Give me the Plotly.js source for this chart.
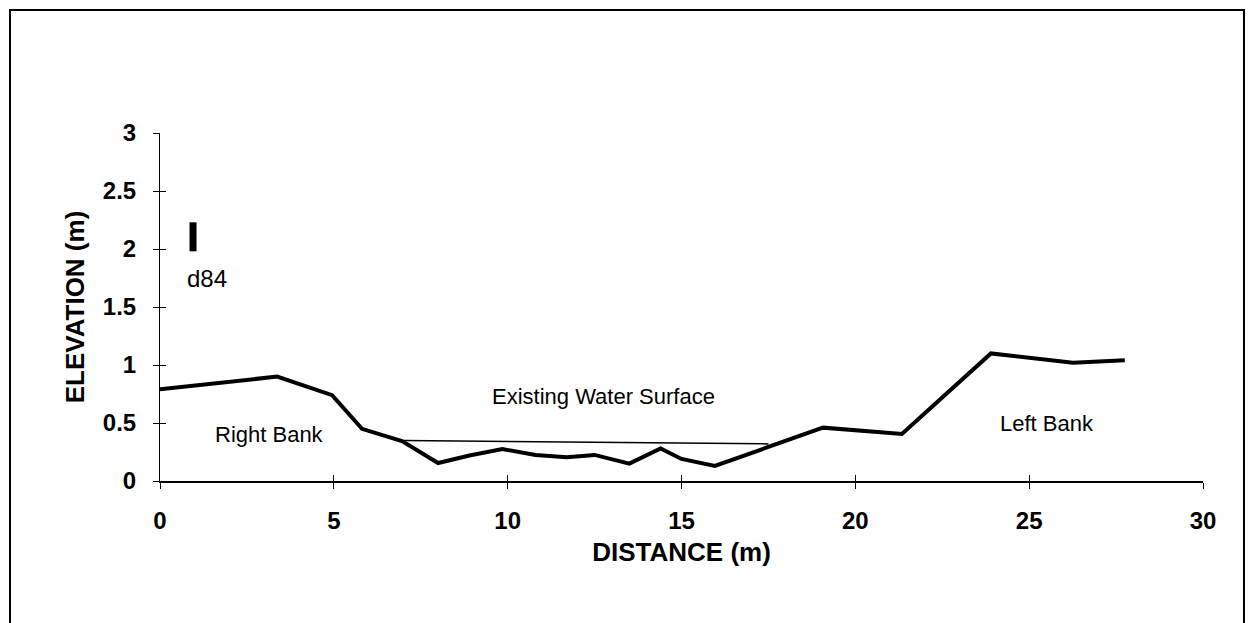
<!DOCTYPE html>
<html>
<head>
<meta charset="utf-8">
<script src="https://cdn.plot.ly/plotly-3.0.1.min.js"></script>
<style>html,body{margin:0;padding:0;background:#fff;}#chart{width:1251px;height:623px;}</style>
</head>
<body>
<div id="chart"></div>
<script>
// Channel cross-section profile
const distance = [0, 3.37, 4.95, 5.81, 6.96, 8.0, 8.9, 9.85, 10.8, 11.7, 12.5, 13.5, 14.4, 15.0, 15.96, 19.07, 21.34, 23.9, 26.26, 27.75];
const elevation = [0.79, 0.90, 0.74, 0.45, 0.345, 0.155, 0.22, 0.275, 0.225, 0.205, 0.225, 0.15, 0.28, 0.19, 0.13, 0.46, 0.405, 1.10, 1.02, 1.04];
// Existing water surface
const waterX = [7.0, 17.5];
const waterY = [0.35, 0.32];
// d84 bar
const d84X = [0.95, 0.95];
const d84Y = [1.98, 2.23];
// Axis ticks
const xTicks = [0, 5, 10, 15, 20, 25, 30];
const yTicks = [0, 0.5, 1, 1.5, 2, 2.5, 3];
const yTickText = ["0", "0.5", "1", "1.5", "2", "2.5", "3"];
// Labels
const labelText = ["Right Bank", "Existing Water Surface", "Left Bank", "d84"];
const labelX = [3.15, 12.75, 25.5, 1.35];
const labelY = [0.405, 0.73, 0.5, 1.75];

const traces = [
  {x: distance, y: elevation, mode: 'lines', line: {color: '#000', width: 4}, hoverinfo: 'skip', showlegend: false},
  {x: waterX, y: waterY, mode: 'lines', line: {color: '#000', width: 1.5}, hoverinfo: 'skip', showlegend: false},
  {x: d84X, y: d84Y, mode: 'lines', line: {color: '#000', width: 7}, hoverinfo: 'skip', showlegend: false},
  {x: [0, 30], y: [0, 0], mode: 'lines', xaxis: 'x2', yaxis: 'y2', line: {color: 'rgba(0,0,0,0)', width: 0}, hoverinfo: 'skip', showlegend: false}
];

const annFont = {family: 'Liberation Sans, Arial, sans-serif', size: 22, color: '#000'};
const annotations = labelText.map((t, i) => ({
  x: labelX[i], y: labelY[i], xref: 'x', yref: 'y', text: t, showarrow: false,
  font: i === 3 ? {family: 'Liberation Sans, Arial, sans-serif', size: 24, color: '#000'} : annFont,
  xanchor: 'center', yanchor: 'middle'
}));

const tickFont = {family: 'Liberation Sans, Arial, sans-serif', size: 24, color: '#000', weight: 'bold'};
const titleFont = {family: 'Liberation Sans, Arial, sans-serif', size: 26, color: '#000', weight: 'bold'};

const layout = {
  width: 1251, height: 623,
  margin: {l: 160, r: 48, t: 133, b: 142},
  paper_bgcolor: '#fff', plot_bgcolor: '#fff',
  showlegend: false,
  xaxis: {
    range: [0, 30], tickvals: xTicks, ticktext: xTicks.map(String),
    showgrid: false, zeroline: false, showline: true, linecolor: '#000', linewidth: 1.5,
    ticks: 'outside', ticklen: 6, tickwidth: 1, tickcolor: '#000',
    tickfont: tickFont, ticklabelstandoff: 12,
    title: {text: 'DISTANCE (m)', font: titleFont, standoff: 9},
    automargin: false, fixedrange: true
  },
  yaxis: {
    range: [0, 3], tickvals: yTicks, ticktext: yTickText,
    showgrid: false, zeroline: false, showline: true, linecolor: '#000', linewidth: 1,
    ticks: 'outside', ticklen: 6, tickwidth: 1, tickcolor: '#000',
    tickfont: tickFont, ticklabelstandoff: 12,
    title: {text: 'ELEVATION (m)', font: titleFont, standoff: 10},
    automargin: false, fixedrange: true
  },
  xaxis2: {
    overlaying: 'x', range: [0, 30], tickvals: xTicks, showticklabels: false,
    showgrid: false, zeroline: false, showline: false,
    ticks: 'inside', ticklen: 6, tickwidth: 1, tickcolor: '#000', anchor: 'y2', side: 'bottom', fixedrange: true
  },
  yaxis2: {
    overlaying: 'y', range: [0, 3], tickvals: yTicks, showticklabels: false,
    showgrid: false, zeroline: false, showline: false,
    ticks: 'inside', ticklen: 6, tickwidth: 1, tickcolor: '#000', anchor: 'x2', side: 'left', fixedrange: true
  },
  annotations: annotations,
  shapes: [
    {type: 'rect', xref: 'paper', yref: 'paper', x0: -0.1438, x1: 1.0393, y0: -0.5, y1: 1.3534,
     line: {color: '#000', width: 2}, fillcolor: 'rgba(0,0,0,0)', layer: 'below'}
  ]
};

Plotly.newPlot('chart', traces, layout, {displayModeBar: false, staticPlot: true});
</script>
</body>
</html>
